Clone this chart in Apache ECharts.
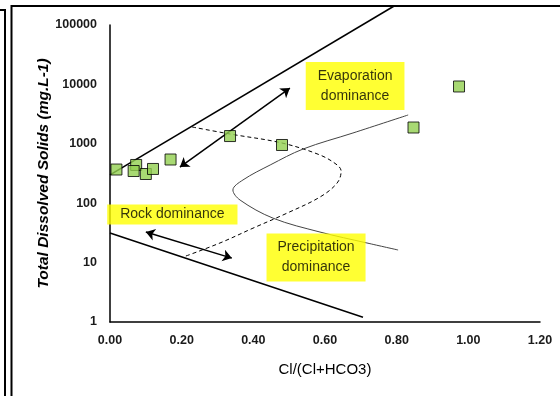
<!DOCTYPE html>
<html>
<head>
<meta charset="utf-8">
<script src="https://cdn.jsdelivr.net/npm/echarts@6/dist/echarts.min.js"></script>
<style>
html,body{margin:0;padding:0;background:#fff;}
#chart{width:560px;height:396px;}
</style>
</head>
<body>
<div id="chart"></div>
<script>
// ---- Data ----
var xTicks = [0, 0.2, 0.4, 0.6, 0.8, 1.0, 1.2];
var yTicks = [1, 10, 100, 1000, 10000, 100000];

// Samples: Cl/(Cl+HCO3) vs TDS (mg/L)
var sampleRatio = [0.018, 0.073, 0.066, 0.100, 0.120, 0.169, 0.335, 0.480, 0.847, 0.974];
var sampleTDS   = [369,   440,   348,   310,   377,   544,   1350,  955,   1880,  9220];

// Gibbs envelope boundaries
var upperBoundX = [0, 0.793];
var upperBoundY = [300, 208930];
var lowerBoundX = [0, 0.706];
var lowerBoundY = [31.5, 1.2];

// Dashed inner curve
var dashX = [0.229, 0.335, 0.480, 0.586, 0.634, 0.645, 0.634, 0.586, 0.494, 0.399, 0.307, 0.204];
var dashY = [1919,  1462,  1031,  648,   440,   348,   219,   127,   68,    38,    21.4,  12.4];

// Thin grey curve
var greyX = [0.832, 0.678, 0.539, 0.447, 0.371, 0.343, 0.363, 0.455, 0.586, 0.717, 0.804];
var greyY = [3055,  1520,  817,   440,   246,   167,   113,   56,    32.7,  21.4,  16.3];

// Double-headed arrows
var arrow1X = [0.195, 0.502];
var arrow1Y = [406, 8690];
var arrow2X = [0.100, 0.340];
var arrow2Y = [32.7, 11.9];

// Annotations
var noteText = ['Evaporation\ndominance', 'Rock dominance', 'Precipitation\ndominance'];
var noteX = [0.684, 0.174, 0.575];
var noteY = [9400, 64.5, 12.2];

function zip(xs, ys){ return xs.map(function(x,i){ return [x, ys[i]]; }); }

var chart = echarts.init(document.getElementById('chart'), null, {renderer:'canvas'});
var labelFont = {fontFamily:'Liberation Sans', fontWeight:'bold', fontSize:12.5, color:'#1a1a1a'};
var notePad = [[4,12,4,12],[1,13,1,13],[4,11,4,11]];

chart.setOption({
  animation:false,
  backgroundColor:'#fff',
  grid:{left:110, right:20, top:25, bottom:74},
  xAxis:{
    type:'value', min:xTicks[0], max:xTicks[xTicks.length-1], interval:0.2,
    axisLine:{onZero:false, lineStyle:{color:'#000', width:1.5}},
    axisTick:{show:false}, splitLine:{show:false},
    axisLabel:Object.assign({margin:12, formatter:function(v){return v.toFixed(2);}}, labelFont),
    name:'Cl/(Cl+HCO3)', nameLocation:'middle', nameGap:40, nameMoveOverlap:false,
    nameTextStyle:{fontFamily:'Liberation Sans', fontSize:15, color:'#000'}
  },
  yAxis:{
    type:'log', logBase:10, min:yTicks[0], max:yTicks[yTicks.length-1],
    axisLine:{show:true, onZero:false, lineStyle:{color:'#000', width:1.5}},
    axisTick:{show:false}, splitLine:{show:false},
    axisLabel:Object.assign({margin:13, formatter:function(v){return String(Math.round(v));}}, labelFont),
    name:'Total Dissolved Solids (mg.L-1)', nameLocation:'middle', nameGap:58, nameRotate:90,
    nameMoveOverlap:false,
    nameTextStyle:{fontFamily:'Liberation Sans', fontSize:15.5, fontWeight:'bold', fontStyle:'italic', color:'#000'}
  },
  graphic:[
    {type:'polyline', shape:{points:[[0,10],[5,10],[5,400]]}, style:{stroke:'#000', lineWidth:2, fill:null}},
    {type:'polyline', shape:{points:[[11.5,400],[11.5,6],[560,6]]}, style:{stroke:'#000', lineWidth:2, fill:null}}
  ],
  series:[
    {type:'line', data:zip(upperBoundX, upperBoundY), clip:false, symbol:'none',
     lineStyle:{color:'#000', width:1.5}, z:3},
    {type:'line', data:zip(lowerBoundX, lowerBoundY), symbol:'none',
     lineStyle:{color:'#000', width:1.5}, z:3},
    {type:'line', data:zip(dashX, dashY), smooth:0.35, symbol:'none',
     lineStyle:{color:'#000', width:1, type:[4,3]}, z:3},
    {type:'line', data:zip(greyX, greyY), smooth:0.35, symbol:'none',
     lineStyle:{color:'#444', width:1}, z:3},
    {type:'lines', coordinateSystem:'cartesian2d', symbol:['arrow','arrow'], symbolSize:9,
     lineStyle:{color:'#000', width:1.5, opacity:1},
     data:[{coords:zip(arrow1X, arrow1Y)}, {coords:zip(arrow2X, arrow2Y)}], z:4},
    {type:'scatter', data:zip(sampleRatio, sampleTDS), symbol:'rect', symbolSize:11,
     itemStyle:{color:'#92D050', borderColor:'#000', borderWidth:1}, z:6},
    {type:'scatter', symbolSize:0, z:7,
     data:noteText.map(function(t,i){ return {value:[noteX[i], noteY[i]], name:t,
       label:{padding:notePad[i], lineHeight: i===1 ? 18 : 20}}; }),
     label:{show:true, position:'inside', formatter:function(p){return p.name;},
       fontFamily:'Liberation Sans', fontSize:14, color:'#000', lineHeight:20,
       backgroundColor:'#FFFF00'}}
  ]
});
</script>
</body>
</html>
